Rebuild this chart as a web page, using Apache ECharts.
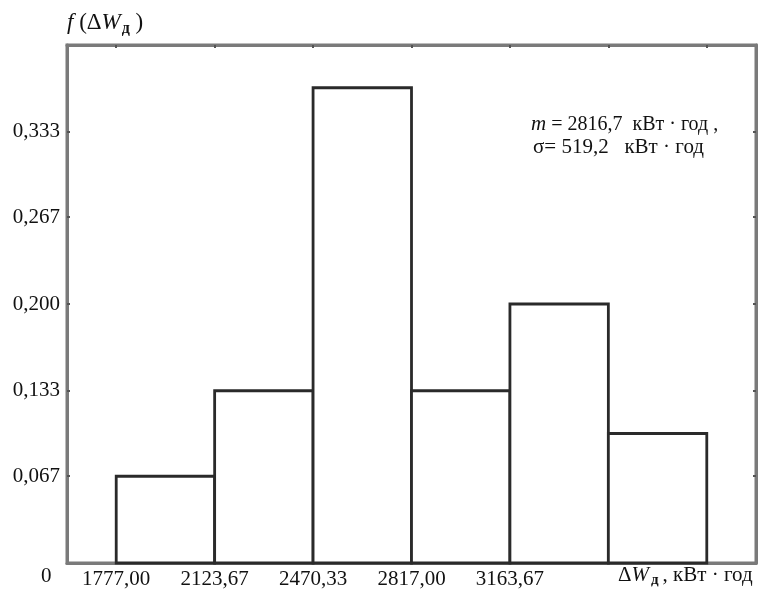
<!DOCTYPE html>
<html>
<head>
<meta charset="utf-8">
<script src="https://cdn.jsdelivr.net/npm/echarts@6/dist/echarts.min.js"></script>
<style>html,body{margin:0;padding:0;background:#fff}#c{width:758px;height:600px}</style>
</head>
<body>
<div id="c"></div>
<script>
// Bin edges (kWh·year) and relative frequencies
var binEdges = [1777.00, 2123.67, 2470.33, 2817.00, 3163.67, 3510.33, 3857.00];
var frequencies = [0.067, 0.133, 0.367, 0.133, 0.200, 0.100];
var xTickLabels = [1777.00, 2123.67, 2470.33, 2817.00, 3163.67];
var yTickLabels = [0.067, 0.133, 0.200, 0.267, 0.333];
var xMin = 1603.67, xMax = 4030.33;
var yMin = 0, yMax = 0.4;

var histData = frequencies.map(function (f, i) { return [binEdges[i], binEdges[i + 1], f]; });

var FONT = 'Liberation Serif';
var AXC = '#7a7a7a';
var chart = echarts.init(document.getElementById('c'), null, { renderer: 'canvas' });
chart.setOption({
  animation: false,
  backgroundColor: '#fff',
  grid: { left: 67, right: 2, top: 45, bottom: 37, containLabel: false,
    show: true, borderColor: AXC, borderWidth: 3, backgroundColor: 'transparent' },
  xAxis: [{
    type: 'value', min: xMin, max: xMax, position: 'bottom',
    axisLine: { show: true, lineStyle: { color: AXC, width: 3 } },
    axisTick: { show: false },
    splitLine: { show: false },
    axisLabel: {
      customValues: xTickLabels, margin: 6,
      fontFamily: FONT, fontSize: 21, color: '#111',
      formatter: function (v) { return v.toFixed(2).replace('.', ','); }
    }
  }, {
    type: 'value', min: xMin, max: xMax, position: 'top',
    axisLine: { show: true, onZero: false, lineStyle: { color: AXC, width: 3 } },
    axisTick: { show: true, inside: true, length: 3, lineStyle: { color: '#555', width: 2 }, customValues: binEdges },
    axisLabel: { show: false },
    splitLine: { show: false }
  }],
  yAxis: [{
    type: 'value', min: yMin, max: yMax, position: 'left',
    axisLine: { show: true, lineStyle: { color: AXC, width: 3 } },
    axisTick: { show: true, inside: true, length: 3, lineStyle: { color: '#555', width: 2 }, customValues: yTickLabels },
    splitLine: { show: false },
    axisLabel: {
      customValues: yTickLabels, margin: 7,
      fontFamily: FONT, fontSize: 21, color: '#111',
      formatter: function (v) { return v.toFixed(3).replace('.', ','); }
    }
  }, {
    type: 'value', min: yMin, max: yMax, position: 'right',
    axisLine: { show: true, onZero: false, lineStyle: { color: AXC, width: 3 } },
    axisTick: { show: true, inside: true, length: 3, lineStyle: { color: '#555', width: 2 }, customValues: yTickLabels },
    axisLabel: { show: false }, splitLine: { show: false }
  }],
  series: [{
    type: 'custom',
    xAxisIndex: 0, yAxisIndex: 0,
    data: histData,
    renderItem: function (params, api) {
      var p0 = api.coord([api.value(0), 0]);
      var p1 = api.coord([api.value(1), api.value(2)]);
      return {
        type: 'rect',
        shape: { x: p0[0], y: p1[1], width: p1[0] - p0[0], height: p0[1] - p1[1] },
        style: { fill: '#fff', stroke: '#2a2a2a', lineWidth: 2.8 }
      };
    }
  }, {
    type: 'line', xAxisIndex: 1, yAxisIndex: 1, data: [], silent: true
  }],
  graphic: [
    { type: 'text', left: 67, top: 11, style: {
      text: '{i|f} (Δ{i|W}{s|д} )',
      font: '23px ' + FONT, fill: '#111',
      rich: { i: { fontStyle: 'italic', fontFamily: FONT, fontSize: 23 }, s: { fontFamily: FONT, fontSize: 16, fontWeight: 'bold', padding: [12, 0, 0, 1] } }
    } },
    { type: 'text', left: 41, top: 566, style: { text: '0', font: '21px ' + FONT, fill: '#111' } },
    { type: 'text', left: 618, top: 565, style: {
      text: 'Δ{i|W}{s|д}, кВт · год',
      font: '21px ' + FONT, fill: '#111',
      rich: { i: { fontStyle: 'italic', fontFamily: FONT, fontSize: 21 }, s: { fontFamily: FONT, fontSize: 15, fontWeight: 'bold', padding: [10, 4, 0, 2] } }
    } },
    { type: 'text', left: 531, top: 114, style: {
      text: '{i|m} = 2816,7  кВт · год ,',
      font: '20px ' + FONT, fill: '#111',
      rich: { i: { fontStyle: 'italic', fontFamily: FONT, fontSize: 21 } }
    } },
    { type: 'text', left: 533, top: 137, style: {
      text: 'σ= 519,2   кВт · год',
      font: '21px ' + FONT, fill: '#111'
    } }
  ]
});
</script>
</body>
</html>
